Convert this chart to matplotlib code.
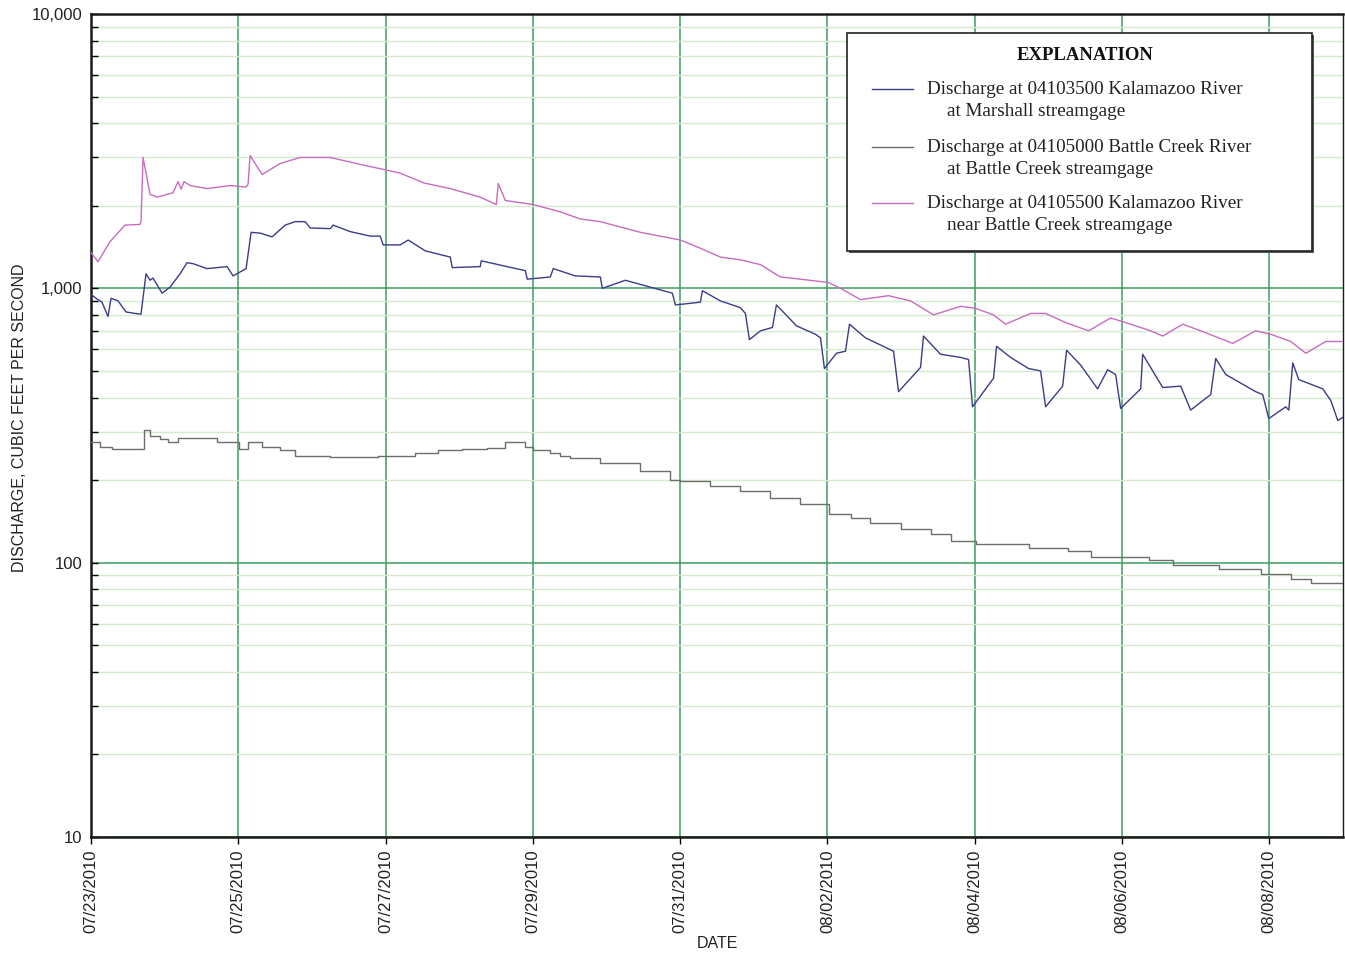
import numpy as np
import pandas as pd
import matplotlib
matplotlib.use("Agg")
import matplotlib.pyplot as plt
import matplotlib.dates as mdates
from matplotlib.ticker import FixedLocator, NullFormatter
from matplotlib.lines import Line2D
from matplotlib.patches import Rectangle

START = "2010-07-23"

# ---- Data (days since 07/23/2010 00:00, discharge in cubic feet per second) ----
near_bc_days = [0.000, 0.095, 0.258, 0.462, 0.666, 0.679, 0.707, 0.802, 0.897, 1.114, 1.182, 1.223,
                1.264, 1.345, 1.576, 1.889, 2.106, 2.133, 2.160, 2.323, 2.568, 2.840, 3.247, 3.655,
                4.008, 4.198, 4.524, 4.878, 5.285, 5.503, 5.530, 5.625, 6.005, 6.372, 6.644, 6.916,
                7.459, 8.003, 8.274, 8.546, 8.818, 9.090, 9.361, 9.633, 10.014, 10.177, 10.448,
                10.829, 11.128, 11.440, 11.807, 12.011, 12.255, 12.418, 12.758, 12.962, 13.234,
                13.546, 13.845, 14.049, 14.389, 14.552, 14.823, 15.068, 15.503, 15.815, 16.019,
                16.291, 16.495, 16.766, 17.011]
near_bc_q = [1350, 1250, 1480, 1700, 1710, 1750, 3000, 2200, 2150, 2230, 2450, 2300,
             2450, 2370, 2310, 2370, 2340, 2400, 3050, 2600, 2850, 3000, 3000, 2830,
             2700, 2630, 2420, 2310, 2150, 2020, 2410, 2090, 2020, 1900, 1790, 1750,
             1600, 1500, 1400, 1300, 1270, 1220, 1100, 1080, 1050, 1000, 910,
             940, 900, 800, 860, 845, 800, 740, 810, 810, 750,
             700, 780, 750, 700, 670, 740, 700, 630, 700, 680,
             640, 580, 640, 640]

marshall_days = [0.000, 0.068, 0.149, 0.231, 0.272, 0.367, 0.476, 0.598, 0.679, 0.747, 0.802, 0.842,
                 0.965, 1.073, 1.209, 1.304, 1.386, 1.576, 1.848, 1.929, 2.106, 2.174, 2.296, 2.459,
                 2.636, 2.772, 2.908, 2.976, 3.247, 3.288, 3.519, 3.791, 3.927, 3.967, 4.198, 4.307,
                 4.538, 4.878, 4.905, 5.285, 5.299, 5.530, 5.897, 5.924, 6.236, 6.277, 6.576, 6.916,
                 6.943, 7.255, 7.595, 7.894, 7.935, 8.274, 8.302, 8.546, 8.818, 8.886, 8.940, 9.090,
                 9.253, 9.307, 9.497, 9.579, 9.837, 9.905, 9.959, 10.122, 10.245, 10.299, 10.516,
                 10.897, 10.965, 11.264, 11.304, 11.535, 11.807, 11.916, 11.970, 12.215, 12.255,
                 12.296, 12.486, 12.731, 12.894, 12.962, 13.193, 13.247, 13.438, 13.668, 13.804,
                 13.913, 13.981, 14.253, 14.280, 14.552, 14.796, 14.932, 15.204, 15.272, 15.408,
                 15.815, 15.910, 15.992, 16.223, 16.264, 16.318, 16.399, 16.726, 16.834, 16.929, 17.011]
marshall_q = [950, 920, 890, 790, 920, 900, 820, 810, 805, 1130, 1070, 1090,
              960, 1010, 1130, 1240, 1230, 1180, 1200, 1110, 1180, 1600, 1590, 1540,
              1700, 1750, 1750, 1660, 1650, 1700, 1610, 1550, 1550, 1440, 1440, 1500,
              1370, 1300, 1190, 1200, 1260, 1220, 1160, 1080, 1100, 1180, 1110, 1100,
              1000, 1070, 1010, 960, 870, 890, 980, 900, 850, 810, 650, 700,
              720, 870, 770, 730, 680, 660, 510, 580, 590, 740, 660,
              590, 420, 515, 670, 575, 560, 550, 370, 455, 470,
              615, 560, 510, 500, 370, 440, 595, 525, 430, 505,
              485, 365, 430, 575, 435, 440, 360, 410, 555, 485,
              420, 410, 335, 370, 360, 535, 465, 430, 390, 330, 340]

battle_days = [0.000, 0.122, 0.285, 0.679, 0.720, 0.802, 0.938, 1.046, 1.182, 1.712, 2.011, 2.133,
               2.323, 2.568, 2.772, 3.247, 3.900, 4.394, 4.707, 5.034, 5.380, 5.625, 5.897, 6.005,
               6.236, 6.372, 6.508, 6.916, 7.459, 7.867, 8.003, 8.410, 8.818, 9.226, 9.633, 10.014,
               10.313, 10.584, 10.992, 11.399, 11.671, 12.011, 12.731, 13.261, 13.573, 14.361,
               14.688, 15.313, 15.883, 16.291, 16.563, 17.011]
battle_q = [275, 265, 260, 260, 305, 290, 283, 275, 285, 275, 260, 275,
            265, 257, 245, 242, 245, 250, 257, 260, 262, 275, 265, 258,
            250, 244, 240, 230, 215, 200, 198, 190, 182, 172, 163, 151,
            145, 140, 133, 127, 120, 117, 113, 110, 105, 102,
            98, 95, 91, 87, 84.5, 84.5]

y_ticks = [10, 100, 1000, 10000]
y_tick_labels = ["10", "100", "1,000", "10,000"]

legend_title = "EXPLANATION"
label_first = ["Discharge at 04103500 Kalamazoo River",
               "Discharge at 04105000 Battle Creek River",
               "Discharge at 04105500 Kalamazoo River"]
label_second = ["at Marshall streamgage",
                "at Battle Creek streamgage",
                "near Battle Creek streamgage"]

c_marshall = "#3c3c88"
c_battle = "#6e6e6e"
c_near = "#c86cbe"
c_major = "#3e9c62"
c_minor = "#d6ead0"

W, H = 1345, 957


def to_time(days):
    return pd.Timestamp(START) + pd.to_timedelta(np.asarray(days), unit="D")


def fx(px):
    return px / W


def fy(py):
    return 1 - py / H


fig = plt.figure(figsize=(W / 100, H / 100), dpi=100)
ax = fig.add_axes([fx(91), fy(837), 1252 / W, 823 / H])

ax.plot(to_time(near_bc_days), near_bc_q, color=c_near, lw=1.0, zorder=3)
ax.plot(to_time(marshall_days), marshall_q, color=c_marshall, lw=1.0, zorder=3)
ax.plot(to_time(battle_days), battle_q, color=c_battle, lw=1.0, drawstyle="steps-post", zorder=3)

ax.set_yscale("log")
ax.set_ylim(10, 10000)
ax.set_xlim(pd.Timestamp(START), pd.Timestamp("2010-08-09"))

ax.yaxis.set_major_locator(FixedLocator(y_ticks))
ax.set_yticklabels(y_tick_labels, fontsize=12, family="Liberation Sans", color="#222222")
minor = [m * 10 ** e for e in range(1, 4) for m in range(2, 10)]
ax.yaxis.set_minor_locator(FixedLocator(minor))
ax.yaxis.set_minor_formatter(NullFormatter())

ax.xaxis.set_major_locator(FixedLocator(mdates.date2num(
    pd.date_range(START, "2010-08-08", freq="2D"))))
ax.xaxis.set_major_formatter(mdates.DateFormatter("%m/%d/%Y"))
for lab in ax.get_xticklabels():
    lab.set_rotation(90)
    lab.set_fontsize(12)
    lab.set_family("Liberation Sans")
    lab.set_color("#222222")

ax.tick_params(axis="y", which="both", direction="in", length=5, width=1, pad=6)
ax.tick_params(axis="x", which="major", direction="out", length=5, width=1, pad=4)

ax.grid(True, axis="x", which="major", color=c_major, lw=1.1, zorder=1)
ax.grid(True, axis="y", which="major", color=c_major, lw=1.1, zorder=1)
ax.grid(True, axis="y", which="minor", color=c_minor, lw=1.0, zorder=1)
ax.set_axisbelow(True)

for s in ax.spines.values():
    s.set_linewidth(1.8)
    s.set_color("#1a1a1a")
ax.spines["right"].set_linewidth(1.0)

ax.set_ylabel("DISCHARGE, CUBIC FEET PER SECOND", fontsize=11.5, family="Liberation Sans",
              color="#222222", labelpad=2)
ax.yaxis.set_label_coords(-0.051, 0.509)
ax.set_xlabel("DATE", fontsize=11.5, family="Liberation Sans", color="#222222", labelpad=2)

# ---- Explanation box drawn by hand ----
fig.patches.append(Rectangle((fx(849), fy(253)), (1312 - 847) / W, (251 - 33) / H,
                             transform=fig.transFigure, facecolor="#555555",
                             edgecolor="none", zorder=9))
fig.patches.append(Rectangle((fx(847), fy(251)), (1312 - 847) / W, (251 - 33) / H,
                             transform=fig.transFigure, facecolor="white",
                             edgecolor="#222222", lw=1.2, zorder=10))
fig.text(fx(1085), fy(55), legend_title, ha="center", va="center", zorder=11,
         family="Liberation Serif", fontsize=13.5, weight="bold", color="#111111")
row_y = [89, 147, 203]
colors = [c_marshall, c_battle, c_near]
for yy, c, t1, t2 in zip(row_y, colors, label_first, label_second):
    fig.lines.append(Line2D([fx(872), fx(913)], [fy(yy), fy(yy)], transform=fig.transFigure,
                            color=c, lw=1.0, zorder=11))
    fig.text(fx(927), fy(yy), t1, ha="left", va="center", zorder=11,
             family="Liberation Serif", fontsize=13.8, color="#222222")
    fig.text(fx(947), fy(yy + 23), t2, ha="left", va="center", zorder=11,
             family="Liberation Serif", fontsize=13.8, color="#222222")

fig.savefig("out.png", dpi=100)
